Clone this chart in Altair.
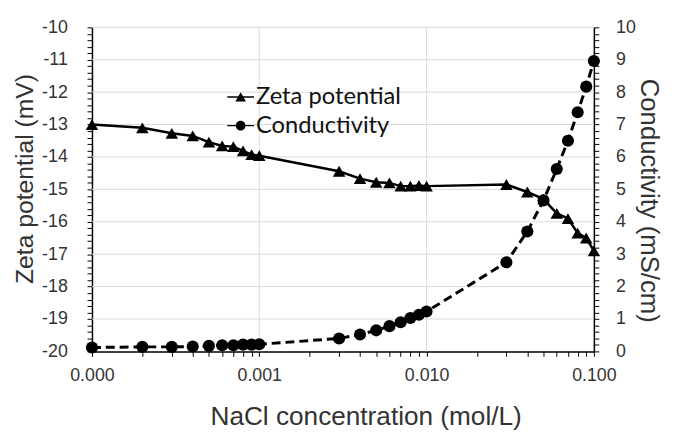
import altair as alt
import pandas as pd

# ---- data ----
conc = [0.0001, 0.0002, 0.0003, 0.0004, 0.0005, 0.0006, 0.0007, 0.0008, 0.0009, 0.001,
        0.003, 0.004, 0.005, 0.006, 0.007, 0.008, 0.009, 0.01,
        0.03, 0.04, 0.05, 0.06, 0.07, 0.08, 0.09, 0.1]
zeta = [-13.0, -13.1, -13.27, -13.35, -13.54, -13.66, -13.68, -13.81, -13.93, -13.96,
        -14.44, -14.67, -14.78, -14.8, -14.9, -14.9, -14.88, -14.9,
        -14.85, -15.08, -15.3, -15.74, -15.9, -16.35, -16.5, -16.9]
cond = [0.12, 0.14, 0.14, 0.15, 0.17, 0.19, 0.19, 0.21, 0.21, 0.22,
        0.4, 0.52, 0.65, 0.78, 0.9, 1.03, 1.13, 1.23,
        2.75, 3.7, 4.66, 5.63, 6.5, 7.38, 8.17, 8.96]
series_names = ["Zeta potential", "Conductivity"]

x_ticks = [0.0001, 0.0002, 0.0003, 0.0004, 0.0005, 0.0006, 0.0007, 0.0008, 0.0009,
           0.001, 0.002, 0.003, 0.004, 0.005, 0.006, 0.007, 0.008, 0.009,
           0.01, 0.02, 0.03, 0.04, 0.05, 0.06, 0.07, 0.08, 0.09, 0.1]
x_grid = [0.001, 0.01]
zeta_grid = [-19, -18, -17, -16, -15, -14, -13, -12, -11, -10]
zeta_ticks = [round(-20 + 0.2 * i, 1) for i in range(51)]
cond_ticks = [round(0.2 * i, 1) for i in range(51)]

df = pd.DataFrame({"conc": conc, "zeta": zeta, "cond": cond})

FONT = "Liberation Sans"
TXT = "#333333"

x_scale = alt.Scale(type="log", domain=[0.0001, 0.1])
zeta_scale = alt.Scale(domain=[-20, -10], nice=False, zero=False)
cond_scale = alt.Scale(domain=[0, 10], nice=False)

x_axis = alt.Axis(
    title="NaCl concentration (mol/L)", values=x_ticks, grid=False,
    labelExpr="abs(log(datum.value)/log(10) - round(log(datum.value)/log(10))) < 0.000001 ? format(datum.value, '.3f') : ''",
    labelOverlap=False, labelFlush=False, labelPadding=10,
    titleFontSize=26.5, titleBaseline="alphabetic", titleX=277, titleY=74,
)
zeta_axis = alt.Axis(
    title="Zeta potential (mV)", values=zeta_ticks, grid=False,
    labelExpr="abs(datum.value - round(datum.value)) < 0.001 ? toString(round(datum.value)) : ''",
    labelOverlap=False, labelFlush=False, labelPadding=20,
    titleFontSize=25, titleBaseline="alphabetic", titleX=-60, titleY=153,
)
cond_axis = alt.Axis(
    title="Conductivity (mS/cm)", values=cond_ticks, grid=False, orient="right",
    labelExpr="abs(datum.value - round(datum.value)) < 0.001 ? toString(round(datum.value)) : ''",
    labelOverlap=False, labelFlush=False, labelPadding=17,
    titleFontSize=26, titleBaseline="alphabetic", titleX=47, titleY=175,
)

x_enc = alt.X("conc:Q", scale=x_scale, axis=x_axis)
yz_enc = alt.Y("zeta:Q", scale=zeta_scale, axis=zeta_axis)
yc_enc = alt.Y("cond:Q", scale=cond_scale, axis=cond_axis)

hgrid = alt.Chart(pd.DataFrame({"g": zeta_grid})).mark_rule(
    color="#d9d9d9", strokeWidth=1
).encode(y=alt.Y("g:Q", scale=zeta_scale, axis=zeta_axis))

vgrid = alt.Chart(pd.DataFrame({"v": x_grid})).mark_rule(
    color="#d9d9d9", strokeWidth=1
).encode(x=alt.X("v:Q", scale=x_scale, axis=x_axis))

base = alt.Chart(df)

zeta_line = base.mark_line(color="black", strokeWidth=2.5).encode(x=x_enc, y=yz_enc)
zeta_pts = base.mark_point(shape="triangle-up", filled=True, color="black", size=160, opacity=1).encode(
    x=x_enc, y=yz_enc
)

# legend symbols: short line with marker in the middle (filled outlines)
tri_path = "M-1,-0.05H1V0.05H-1ZM0,-0.36L0.4,0.34L-0.4,0.34Z"
circ_path = "M-1,-0.05H1V0.05H-1ZM0.36,0A0.36,0.36,0,1,1,-0.36,0A0.36,0.36,0,1,1,0.36,0Z"

legend_layer = base.transform_calculate(series="'Zeta potential'").transform_filter(
    "false"
).mark_point(filled=True, color="black", opacity=1).encode(
    x=x_enc,
    y=yz_enc,
    shape=alt.Shape(
        "series:N",
        scale=alt.Scale(domain=series_names, range=[tri_path, circ_path]),
        legend=alt.Legend(
            title=None, orient="none", legendX=137, legendY=57,
            symbolSize=729, symbolStrokeWidth=0,
            symbolFillColor="black", symbolOpacity=1,
            labelFont="Lato", labelFontSize=24, labelColor="#111111",
            labelOffset=2, rowPadding=3, padding=0, offset=0,
        ),
    ),
)

zeta_layer = alt.layer(hgrid, vgrid, zeta_line, zeta_pts, legend_layer)

cond_line = base.mark_line(color="black", strokeWidth=3, strokeDash=[9, 5]).encode(x=x_enc, y=yc_enc)
cond_pts = base.mark_point(shape="circle", filled=True, color="black", size=150, opacity=1).encode(
    x=x_enc, y=yc_enc
)
cond_layer = alt.layer(cond_line, cond_pts)

chart = alt.layer(zeta_layer, cond_layer).resolve_scale(y="independent").properties(
    width=508, height=328,
    autosize=alt.AutoSizeParams(type="none"),
    padding={"left": 85, "top": 17, "right": 73, "bottom": 80},
).configure_view(stroke=None).configure_axis(
    labelFont=FONT, labelFontSize=18, labelColor=TXT,
    titleFont=FONT, titleFontWeight="normal", titleColor=TXT,
    domainColor="black", domainWidth=1.5, tickColor="black", tickSize=5, tickWidth=1,
)

chart.save("out.html", embed_options={"renderer": "svg", "actions": False})
